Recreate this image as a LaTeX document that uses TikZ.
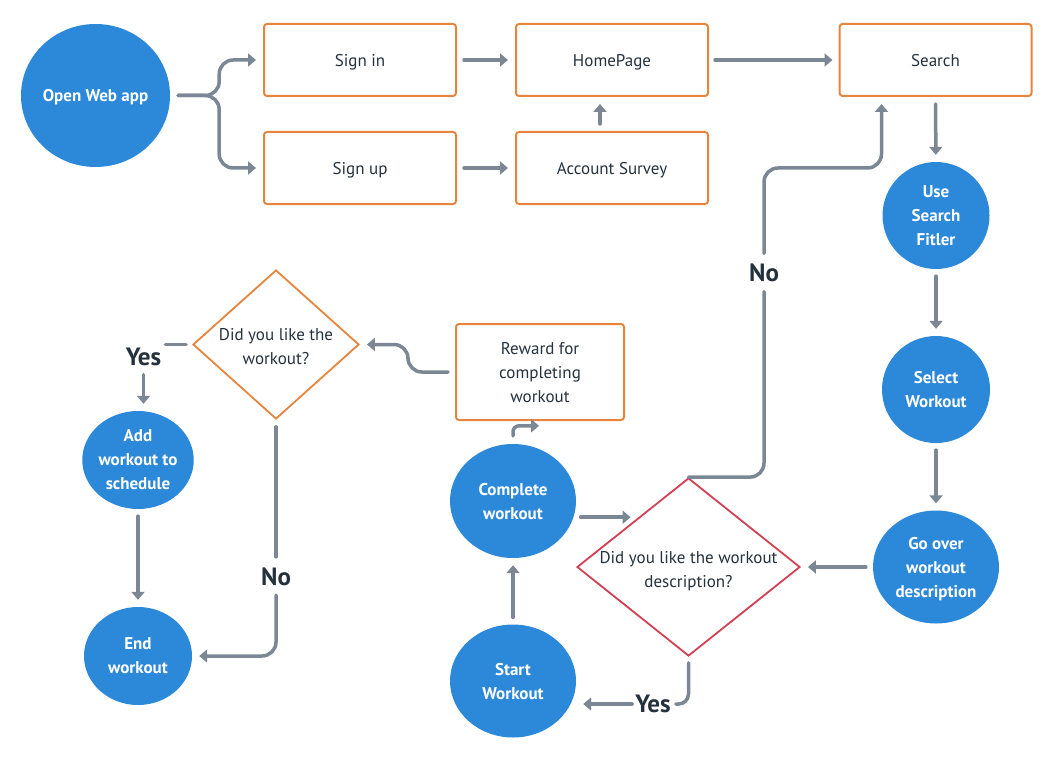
\documentclass[tikz,border=0pt]{standalone}
\usepackage{fontspec}
\setmainfont{PT Sans}
\usetikzlibrary{shapes.geometric, arrows.meta}
\definecolor{flowblue}{HTML}{2C88D9}
\definecolor{floworange}{HTML}{E8843C}
\definecolor{flowred}{HTML}{D43F52}
\definecolor{flowgray}{HTML}{7B8794}
\definecolor{flowtext}{HTML}{25313C}
\begin{document}
\begin{tikzpicture}[x=1pt, y=-1pt,
    box/.style={draw=floworange, line width=2pt, rounded corners=3pt,
      minimum width=192pt, minimum height=72pt, text=flowtext, text depth=0pt,
      font=\fontsize{17}{24}\selectfont, align=center},
    bubble/.style={ellipse, fill=flowblue, text=white, inner sep=0pt, text depth=0pt,
      font=\bfseries\fontsize{17}{24}\selectfont, align=center},
    decision/.style={diamond, line width=1.8pt, inner sep=0pt},
    question/.style={text=flowtext, text depth=0pt, font=\fontsize{17}{24}\selectfont, align=center},
    answer/.style={text=flowtext, inner sep=0pt, font=\bfseries\fontsize{25}{25}\selectfont},
    link/.style={draw=flowgray, line width=3.5pt, line cap=round, rounded corners=14pt,
      shorten <=7pt, shorten >=7pt},
    arrow/.style={link, -{Triangle[length=8pt, width=13pt]}}
  ]
  \useasboundingbox (0, 0) rectangle (1056, 762);

  % top row
  \node[bubble, minimum width=143pt, minimum height=143pt] (ow) at (95.5, 95.5){Open Web app};
  \node[box] (si) at (360, 60){Sign in};
  \node[box] (su) at (360, 168){Sign up};
  \node[box] (hp) at (612, 60){HomePage};
  \node[box] (as) at (612, 168){Account Survey};
  \node[box] (se) at (935.5, 60){Search};

  % right column
  \node[bubble, minimum width=107pt, minimum height=107pt] (uf) at (936, 215.5){Use\\Search\\Fitler};
  \node[bubble, minimum width=108pt, minimum height=107pt] (sw) at (936, 389.5){Select\\Workout};
  \node[bubble, minimum width=126pt, minimum height=113pt] (gd) at (936, 567){Go over\\workout\\description};

  % middle
  \node[decision, draw=flowred, minimum width=223pt, minimum height=178pt] (q2) at (688.5, 567){};
  \node[question] (q2t) at (688.5, 569){Did you like the workout\\description?};
  \node[bubble, minimum width=126pt, minimum height=114pt] (cw) at (513, 501){Complete\\workout};
  \node[bubble, minimum width=126pt, minimum height=113pt] (st) at (513, 681){Start\\Workout};
  \node[box, minimum width=168pt, minimum height=96pt] (rw) at (540, 372){Reward for\\completing\\workout};

  % left
  \node[decision, draw=floworange, minimum width=166pt, minimum height=149pt] (q1) at (276, 344.5){};
  \node[question] (q1t) at (276, 346.5){Did you like the\\workout?};
  \node[bubble, minimum width=108pt, minimum height=98pt] (ad) at (138, 460){Add\\workout to\\schedule};
  \node[bubble, minimum width=108pt, minimum height=98pt] (ew) at (138, 656){End\\workout};

  % answers
  \node[answer] (n2) at (764, 272.5){No};
  \node[answer] (y2) at (653, 704){Yes};
  \node[answer] (y1) at (143.5, 356.5){Yes};
  \node[answer] (n1) at (276, 577){No};

  % connectors
  \draw[arrow, shorten <=8pt] (ow.east) -- ++(49, 0) |- (si.west);
  \draw[arrow, shorten <=8pt] (ow.east) -- ++(49, 0) |- (su.west);
  \draw[arrow] (si) -- (hp);
  \draw[arrow] (su) -- (as);
  \draw[arrow] ([xshift=-12pt]as.north) -- ([xshift=-12pt]hp.south);
  \draw[arrow, shorten <=6pt, shorten >=6pt] (hp) -- (se);
  \draw[arrow] (se) -- (uf);
  \draw[arrow] (uf) -- (sw);
  \draw[arrow] (sw) -- (gd);
  \draw[arrow] (gd) -- (q2);
  \draw[link, shorten <=0pt, shorten >=10pt] (q2.north) -| (n2.south);
  \draw[arrow, shorten <=10pt] (n2.north) -- (764, 168) -| ([xshift=-54pt]se.south);
  \draw[link, rounded corners=10pt, shorten <=6pt, shorten >=5pt] (q2.south) |- (y2.east);
  \draw[arrow, shorten <=3pt] (y2.west) -- (y2.west -| st.east);
  \draw[arrow] (st) -- (cw);
  \draw[arrow, shorten >=8pt] (cw.-15) -- ++(65, 0);
  \draw[arrow, rounded corners=6pt, shorten <=8pt, shorten >=0pt] (cw.north) -- ++(0, -18) -- ++(26, 0);
  \draw[arrow] (rw.west) -- (408, 372) -- (408, 344.5) -- (q1.east);
  \draw[link, shorten <=6pt, shorten >=4pt] (q1.west) -- (q1.west -| y1.east);
  \draw[arrow, shorten <=9pt] (y1.south) -- (y1.south |- ad.north);
  \draw[link, shorten >=11pt] (q1.south) -- (n1.north);
  \draw[arrow, shorten <=9pt] (n1.south) |- (ew.east);
  \draw[arrow] (ad) -- (ew);
\end{tikzpicture}
\end{document}
